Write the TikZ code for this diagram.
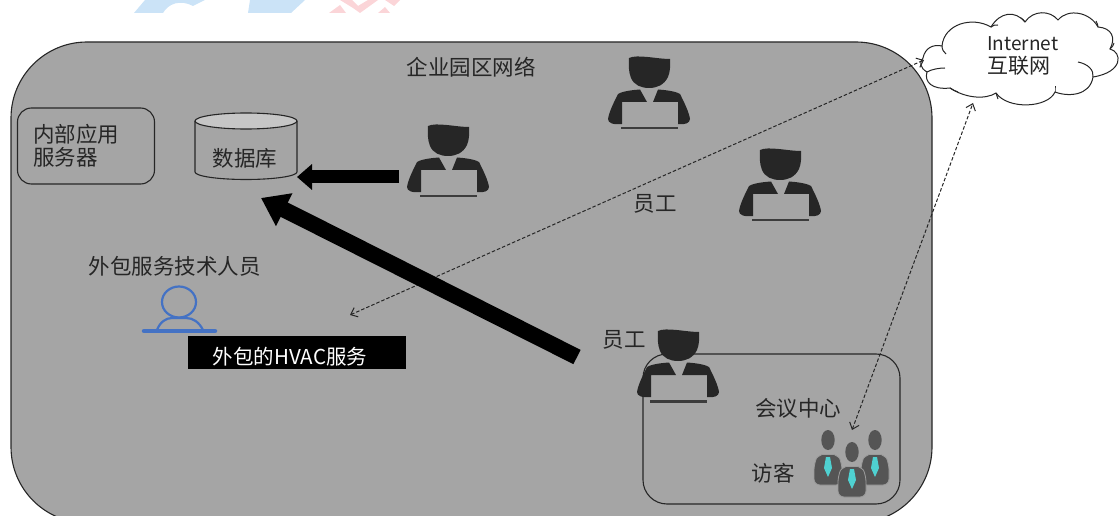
\documentclass[tikz,border=0pt]{standalone}
\usepackage{fontspec}
\setmainfont{Noto Sans CJK SC}
\usetikzlibrary{arrows.meta}
\definecolor{netgray}{HTML}{A5A5A5}
\definecolor{ink}{HTML}{262626}
\definecolor{bluep}{HTML}{4472C4}
\definecolor{teal1}{HTML}{4FD1D1}
\definecolor{guest}{HTML}{555555}
\definecolor{wmblue}{HTML}{CBE3F7}
\definecolor{wmred}{HTML}{FBD5D8}
\tikzset{
  lbl/.style={inner sep=0pt,text=ink,font=\fontsize{21.5}{23.5}\selectfont,align=left},
  boxr/.style={draw=ink,line width=1.1pt,rounded corners=14pt},
  cloudline/.style={draw=ink,line width=1pt},
  arrowa/.style={-{Triangle[length=15pt,width=25pt]},line width=13pt,black},
  arrowb/.style={-{Triangle[length=26pt,width=35pt]},line width=16pt,black},
  dash1/.style={dash pattern=on 3.5pt off 2pt,line width=1pt,ink,{Straight Barb[length=6pt,width=10pt]}-{Straight Barb[length=6pt,width=10pt]}},
  pics/worker/.style={code={
    \fill[ink] (-20,-34) .. controls (-12,-38) and (8,-33) .. (21,-33) .. controls (21.5,-25) and (21,-20) .. (19,-15) .. controls (15,-7) and (8,-4) .. (0,-4) .. controls (-8,-4) and (-15,-7) .. (-18,-14) .. controls (-20.5,-20) and (-20.5,-28) .. (-20,-34) -- cycle;
    \fill[ink] (-2,10) -- (-9,-2.5) .. controls (-16,-2) and (-26,-1) .. (-31,2) .. controls (-35,10) and (-40,20) .. (-41,27) .. controls (-41,31) and (-36,33) .. (-27,32) -- (-27,10) -- cycle;
    \fill[ink] (4,10) -- (9,-2.5) .. controls (16,-2) and (26,-1) .. (31,2) .. controls (35,10) and (40,20) .. (41,27) .. controls (41,31) and (36,33) .. (29,32) -- (29,10) -- cycle;
    \fill[ink!90] (-28,35) rectangle (29,37.5);
  }},
  pics/guestman/.style={code={
    \fill[guest] (0,0) ellipse (6.7 and 10);
    \fill[guest,draw=netgray!110,line width=.8pt,rounded corners=6pt] (-14,45) -- (-14,24) .. controls (-11,17) and (-6,14.5) .. (0,14.5) .. controls (6,14.5) and (11,17) .. (14,24) -- (14,45) -- cycle;
    \fill[teal1] (-2,17) -- (2,17) -- (4,28) -- (0,37) -- (-4,28) -- cycle;
  }},
}
\begin{document}
\begin{tikzpicture}[x=1pt,y=-1pt]
\useasboundingbox (0,0) rectangle (1120,516);
\begin{scope}
\clip (0,0) rectangle (1120,516);
% watermark fragments
\fill[wmblue] (134,13) -- (145,0) -- (205,0) -- (193,6) .. controls (180,-1) and (168,4) .. (163,13) -- cycle;
\fill[wmblue] (248,13) -- (250,0) -- (305,0) -- (291,13) -- cycle;
\fill[wmred] (329,13) -- (340,5) -- (346,13) -- cycle;
\fill[wmred] (340,0) -- (352,0) -- (358,6) -- (368,0) -- (378,0) -- (360,13) -- (353,8) -- cycle;
\fill[wmred] (378,13) -- (385,7) -- (390,13) -- cycle;
\fill[wmred] (385,0) -- (400,0) -- (394,6) -- cycle;
% network
\draw[fill=netgray,draw=ink,line width=1.1pt,rounded corners=76pt] (11,42) rectangle (932,523);
\end{scope}

\node[lbl] (net) at (471,67) {企业园区网络};

% internal app server
\node[boxr,minimum width=137pt,minimum height=76pt] (srv) at (86,146) {};
\node[lbl,anchor=west] (srvl) at (33,146) {内部应用\\服务器};

% database
\draw[fill=netgray,draw=ink,line width=1.1pt] (195,121) -- (195,172) arc[start angle=180,end angle=0,x radius=51,y radius=7.5] -- (297,121);
\draw[fill=gray!45,draw=ink,line width=1.1pt] (246,121) ellipse (51 and 8);
\node[lbl] (dbl) at (245,158) {数据库};

% workers
\pic at (448,160) {worker};
\pic at (649,92) {worker};
\pic at (780,184) {worker};

% conference centre
\node[boxr,rounded corners=24pt,minimum width=257pt,minimum height=150pt] (conf) at (771.5,429) {};
\pic at (678,365) {worker};

\node[lbl] (y1) at (655,204) {员工};
\node[lbl] (y2) at (624,340) {员工};
\node[lbl] (hy) at (798,408) {会议中心};
\node[lbl] (fk) at (773,473) {访客};

% guests
\pic at (828,440) {guestman};
\pic at (875,440) {guestman};
\pic at (852,452) {guestman};

% contractor
\node[lbl] (wb) at (174.5,266) {外包服务技术人员};
\draw[bluep,line width=2.2pt] (179,302) ellipse (17 and 15.5);
\draw[bluep,line width=2.2pt] (157,330) .. controls (160,322) and (166,318) .. (172,318) -- (186,318) .. controls (193,318) and (199,322) .. (203,330);
\draw[bluep,line width=4.5pt,line cap=round] (144,331) -- (215,331);
\node[fill=black,inner sep=0pt,minimum width=218pt,minimum height=33pt] (hvac) at (297,352.5) {};
\node[text=white,inner sep=0pt,font=\fontsize{20.5}{22}\selectfont] (hvact) at (290,356.5) {外包的HVAC服务};

% cloud
\draw[fill=white,cloudline] (923,58)
 .. controls (925,48) and (933,44) .. (942,46)
 .. controls (944,24) and (972,16) .. (991,27)
 .. controls (1000,12) and (1015,10) .. (1025,22)
 .. controls (1033,10) and (1050,10) .. (1058,20)
 .. controls (1068,8) and (1090,12) .. (1098,27)
 .. controls (1112,28) and (1116,38) .. (1110,49)
 .. controls (1122,52) and (1124,72) .. (1093,77)
 .. controls (1090,96) and (1068,97) .. (1055,92)
 .. controls (1048,108) and (1008,110) .. (996,93)
 .. controls (985,100) and (965,98) .. (950,88)
 .. controls (932,90) and (924,82) .. (927,72)
 .. controls (920,68) and (919,62) .. (923,58) -- cycle;
\draw[cloudline] (927,72) .. controls (932,69) and (940,68) .. (945,68);
\draw[cloudline] (1078,62) .. controls (1088,64) and (1094,70) .. (1093,77);
\draw[cloudline] (942,46) .. controls (942,50) and (944,52) .. (946,54);
\draw[cloudline] (991,27) .. controls (993,25) and (995,25) .. (998,25);
\draw[cloudline] (1025,22) .. controls (1024,20) and (1022,19) .. (1021,18);
\draw[cloudline] (1098,27) .. controls (1098,25) and (1097,23) .. (1096,21);
\draw[cloudline] (1110,49) .. controls (1112,47) and (1114,45) .. (1114,43);
\draw[cloudline] (1055,92) .. controls (1055,90) and (1055,88) .. (1055,86);
\draw[cloudline] (996,93) .. controls (997,95) and (997,97) .. (998,99);
\draw[cloudline] (950,88) .. controls (953,90) and (955,91) .. (958,92);
\node[lbl,anchor=west,font=\fontsize{19}{23.5}\selectfont] (inet) at (987,56) {Internet\\\fontsize{21}{23.5}\selectfont 互联网};

\coordinate (cl1) at (924,60);
\coordinate (cl2) at (973,103);
\coordinate (hvacend) at (350,315);
\coordinate (gu) at (852,430);
\coordinate (a1s) at (399,177);
\coordinate (a1e) at (297,177);
\coordinate (a2s) at (577,357);
\coordinate (a2e) at (261,198);

% connectors
\draw[arrowa] (a1s) -- (a1e);
\draw[dash1] (hvacend) -- (cl1);
\draw[dash1] (gu) -- (cl2);
\draw[arrowb] (a2s) -- (a2e);
\end{tikzpicture}
\end{document}
